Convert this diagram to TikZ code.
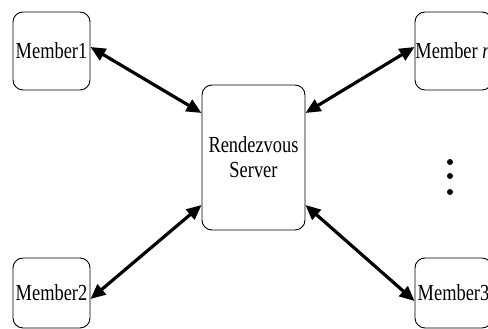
\documentclass[tikz,border=0pt]{standalone}
\usepackage{fontspec}
\setmainfont{Liberation Serif}
\usetikzlibrary{arrows.meta}
\tikzset{
  peer/.style={draw, line width=0.9pt, rounded corners=10pt, inner sep=0pt,
    font=\fontsize{23}{25}\selectfont},
  link/.style={line width=3.2pt, {Triangle[length=15pt,width=13pt]}-{Triangle[length=15pt,width=13pt]}},
  dot/.style={circle, fill=black, inner sep=0pt, minimum size=6pt}
}
\newcommand{\sq}[1]{\scalebox{0.8}[1]{#1}}
\begin{document}
\begin{tikzpicture}[x=1pt,y=1pt]
  \useasboundingbox (0,0) rectangle (488,329);
  % members and server
  \node[peer, minimum width=77pt, minimum height=78pt] (m1) at (51.5,278) {\sq{Member1}};
  \node[peer, minimum width=77pt, minimum height=78pt] (mn) at (453.5,278) {\sq{Member \textit{n}}};
  \node[peer, minimum width=77pt, minimum height=70pt] (m2) at (51.5,36) {\sq{Member2}};
  \node[peer, minimum width=77pt, minimum height=70pt] (m3) at (453.5,36) {\sq{Member3}};
  \node[peer, minimum width=103pt, minimum height=145pt, align=center] (rs) at (253.5,171.5)
    {\sq{Rendezvous}\\\sq{Server}};
  % arrow end points on the box edges
  \coordinate (a1) at (m1.east |- 0,282);
  \coordinate (an) at (mn.west |- 0,282);
  \coordinate (a2) at (m2.east |- 0,30);
  \coordinate (a3) at (mn.west |- 0,28);
  \coordinate (s1) at (rs.west |- 0,216);
  \coordinate (sn) at (rs.east |- 0,216);
  \coordinate (s2) at (rs.west |- 0,124);
  \coordinate (s3) at (rs.east |- 0,124);
  \draw[link] (a1) -- (s1);
  \draw[link] (an) -- (sn);
  \draw[link] (a2) -- (s2);
  \draw[link] (a3) -- (s3);
  % ellipsis between member n and member 3
  \node[dot] (d1) at (450,167) {};
  \node[dot] (d2) at (450,153) {};
  \node[dot] (d3) at (450,137) {};
\end{tikzpicture}
\end{document}
